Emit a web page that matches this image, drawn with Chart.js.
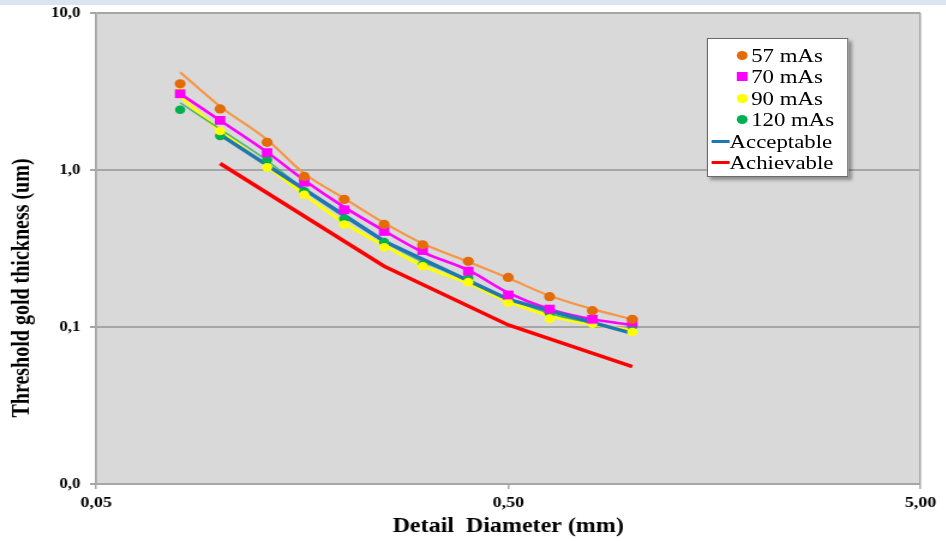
<!DOCTYPE html>
<html>
<head>
<meta charset="utf-8">
<title>Threshold gold thickness</title>
<script src="https://cdn.jsdelivr.net/npm/chart.js@4/dist/chart.umd.min.js"></script>
<style>
  html, body { margin: 0; padding: 0; background: #fff; overflow: hidden; }
  /* the whole figure is drawn narrow and stretched sideways, like the exported sheet */
  #wrap { position: absolute; left: 0; top: 0; width: 788px; height: 542px;
          transform: scaleX(1.2); transform-origin: 0 0; }
  #chart { display: block; }
  #legend { position: absolute; left: 589px; top: 38px; width: 118px; height: 139px;
            box-sizing: border-box; background: #fff; border: 1px solid #6b6b6b;
            box-shadow: 3px 3px 3px rgba(0, 0, 0, 0.35); padding-top: 6px;
            font-family: 'Liberation Serif', 'Times New Roman', serif; font-size: 19px; color: #000; }
  .row { position: relative; height: 21.4px; line-height: 21.4px; white-space: nowrap; }
  .dot { position: absolute; left: 24px; top: 6px; width: 9px; height: 9px; border-radius: 50%; }
  .sq { position: absolute; left: 24px; top: 6px; width: 9px; height: 9px; }
  .ln { position: absolute; left: 3px; top: 9px; width: 15px; height: 3px; }
  .row span.txt { position: absolute; left: 36px; top: 0; }
  .row span.txt.wide { left: 18px; }
</style>
</head>
<body>
<div id="wrap">
  <canvas id="chart" width="788" height="542"></canvas>
  <div id="legend"></div>
</div>
<script>
// CDMAM detail diameters (mm)
const diameters = [0.08, 0.10, 0.13, 0.16, 0.20, 0.25, 0.31, 0.40, 0.50, 0.63, 0.80, 1.00];

// measured threshold gold thickness (um) per tube load
const mas57 = [3.54, 2.45, 1.50, 0.91, 0.65, 0.45, 0.334, 0.262, 0.207, 0.156, 0.127, 0.112];
const mas70 = [3.06, 2.07, 1.29, 0.836, 0.558, 0.406, 0.307, 0.227, 0.160, 0.130, 0.112, 0.107];
const mas90 = [3.16, 1.77, 1.04, 0.695, 0.45, 0.322, 0.244, 0.193, 0.143, 0.113, 0.105, 0.093];
const mas120 = [2.42, 1.65, 1.16, 0.733, 0.489, 0.347, 0.249, 0.206, 0.153, 0.123, 0.110, 0.101];

// fitted curves through each series
const fit57 = [4.2, 2.54, 1.56, 0.95, 0.66, 0.46, 0.34, 0.26, 0.205, 0.158, 0.13, 0.112];
const fit70 = [3.06, 2.07, 1.30, 0.86, 0.58, 0.41, 0.30, 0.23, 0.165, 0.13, 0.112, 0.103];
const fit90 = [2.94, 1.78, 1.06, 0.70, 0.46, 0.33, 0.245, 0.19, 0.145, 0.118, 0.104, 0.095];
const fit120 = [2.68, 1.82, 1.15, 0.75, 0.50, 0.35, 0.26, 0.20, 0.152, 0.122, 0.105, 0.092];

// EUREF limiting values
const limitDiameters = [0.10, 0.25, 0.50, 1.00];
const acceptable = [1.68, 0.352, 0.150, 0.091];
const achievable = [1.10, 0.244, 0.103, 0.056];

// axis ticks
const xTicks = [0.05, 0.5, 5];
const xTickLabels = ['0,05', '0,50', '5,00'];
const yTicks = [0.01, 0.1, 1, 10];
const yTickLabels = ['0,0', '0,1', '1,0', '10,0'];
const yTitle = 'Threshold gold thickness (um)';

const toPoints = (xs, ys) => xs.map((x, i) => ({ x: x, y: ys[i] }));

function markers(label, ys, color, style, radius) {
    return {
        label: label,
        data: toPoints(diameters, ys),
        backgroundColor: color,
        borderWidth: 0,
        pointStyle: style,
        pointRadius: radius,
        showLine: false,
        order: 1
    };
}

function curve(label, xs, ys, color, width, order, smooth) {
    return {
        label: label,
        data: toPoints(xs, ys),
        borderColor: color,
        backgroundColor: color,
        borderWidth: width,
        pointRadius: 0,
        showLine: true,
        cubicInterpolationMode: smooth ? 'monotone' : 'default',
        tension: 0,
        order: order
    };
}

const datasets = [
    markers('57 mAs', mas57, '#e36c09', 'circle', 4.6),
    markers('70 mAs', mas70, '#ff00ff', 'rect', 6.2),
    markers('90 mAs', mas90, '#ffff00', 'circle', 4.3),
    markers('120 mAs', mas120, '#00b050', 'circle', 4.3),
    curve('Acceptable', limitDiameters, acceptable, '#1f77b4', 3.5, 3, false),
    curve('Achievable', limitDiameters, achievable, '#ff0000', 3.5, 3, false),
    curve('fit 57', diameters, fit57, '#f79646', 2.2, 5, true),
    curve('fit 70', diameters, fit70, '#ff00ff', 2.6, 5, true),
    curve('fit 90', diameters, fit90, '#ffff00', 3, 6, true),
    curve('fit 120', diameters, fit120, '#4fb56d', 1.5, 4, true)
];

// gray plot area, the thin band across the top, and the rotated y title
const backdrop = {
    id: 'backdrop',
    beforeDraw(chart) {
        const { ctx, chartArea: a } = chart;
        ctx.save();
        ctx.fillStyle = '#dbe5f1';
        ctx.fillRect(0, 0, chart.width, 5);
        ctx.fillStyle = '#d9d9d9';
        ctx.fillRect(a.left, a.top, a.right - a.left, a.bottom - a.top);
        ctx.restore();
    },
    afterDraw(chart) {
        const ctx = chart.ctx;
        ctx.save();
        ctx.translate(19, 288);
        ctx.rotate(-Math.PI / 2);
        ctx.font = "bold 20px 'Liberation Serif', 'Times New Roman', serif";
        ctx.fillStyle = '#000';
        ctx.textAlign = 'center';
        ctx.textBaseline = 'middle';
        ctx.fillText(yTitle, 0, 0);
        ctx.restore();
    }
};

Chart.defaults.font.family = "'Liberation Serif', 'Times New Roman', serif";
Chart.defaults.color = '#000';

const gray = '#a6a6a6';

const chart = new Chart(document.getElementById('chart'), {
    type: 'scatter',
    data: { datasets: datasets },
    plugins: [backdrop],
    options: {
        responsive: false,
        animation: false,
        layout: { padding: { left: 0, right: 21, top: 13, bottom: 0 } },
        plugins: {
            legend: { display: false },
            tooltip: { enabled: false }
        },
        scales: {
            x: {
                type: 'logarithmic',
                min: 0.05,
                max: 5,
                afterBuildTicks: (scale) => { scale.ticks = xTicks.map(v => ({ value: v })); },
                afterFit: (scale) => {
                    scale.height = 58;
                    scale.paddingLeft = 0;
                    scale.paddingRight = 0;
                },
                ticks: {
                    padding: 5,
                    font: { size: 15, weight: 'bold' },
                    maxRotation: 0,
                    callback: (value) => xTickLabels[xTicks.indexOf(value)]
                },
                grid: {
                    color: (c) => (c.tick && c.tick.value === 0.5) ? 'rgba(0,0,0,0)' : gray,
                    tickColor: gray,
                    lineWidth: 1.5,
                    tickLength: 5
                },
                border: { color: gray, width: 1.5 },
                title: {
                    display: true,
                    text: 'Detail  Diameter (mm)',
                    font: { size: 20, weight: 'bold' },
                    padding: { top: 0, bottom: 3 }
                }
            },
            y: {
                type: 'logarithmic',
                min: 0.01,
                max: 10,
                afterBuildTicks: (scale) => { scale.ticks = yTicks.map(v => ({ value: v })); },
                afterFit: (scale) => {
                    scale.width = 80;
                    scale.paddingTop = 0;
                    scale.paddingBottom = 0;
                },
                ticks: {
                    padding: 8,
                    font: { size: 14, weight: 'bold' },
                    callback: (value) => yTickLabels[yTicks.indexOf(value)]
                },
                grid: {
                    color: gray,
                    lineWidth: 2,
                    tickLength: 5
                },
                border: { color: gray, width: 1.5 }
            }
        }
    }
});

// legend box built from the first six datasets
const legend = document.getElementById('legend');
chart.data.datasets.slice(0, 6).forEach((ds) => {
    const row = document.createElement('div');
    row.className = 'row';
    const mark = document.createElement('span');
    const txt = document.createElement('span');
    txt.className = 'txt';
    if (ds.showLine) {
        mark.className = 'ln';
        mark.style.background = ds.borderColor;
        txt.className = 'txt wide';
    } else {
        mark.className = ds.pointStyle === 'rect' ? 'sq' : 'dot';
        mark.style.background = ds.backgroundColor;
    }
    txt.textContent = ds.label;
    row.appendChild(mark);
    row.appendChild(txt);
    legend.appendChild(row);
});
</script>
</body>
</html>
